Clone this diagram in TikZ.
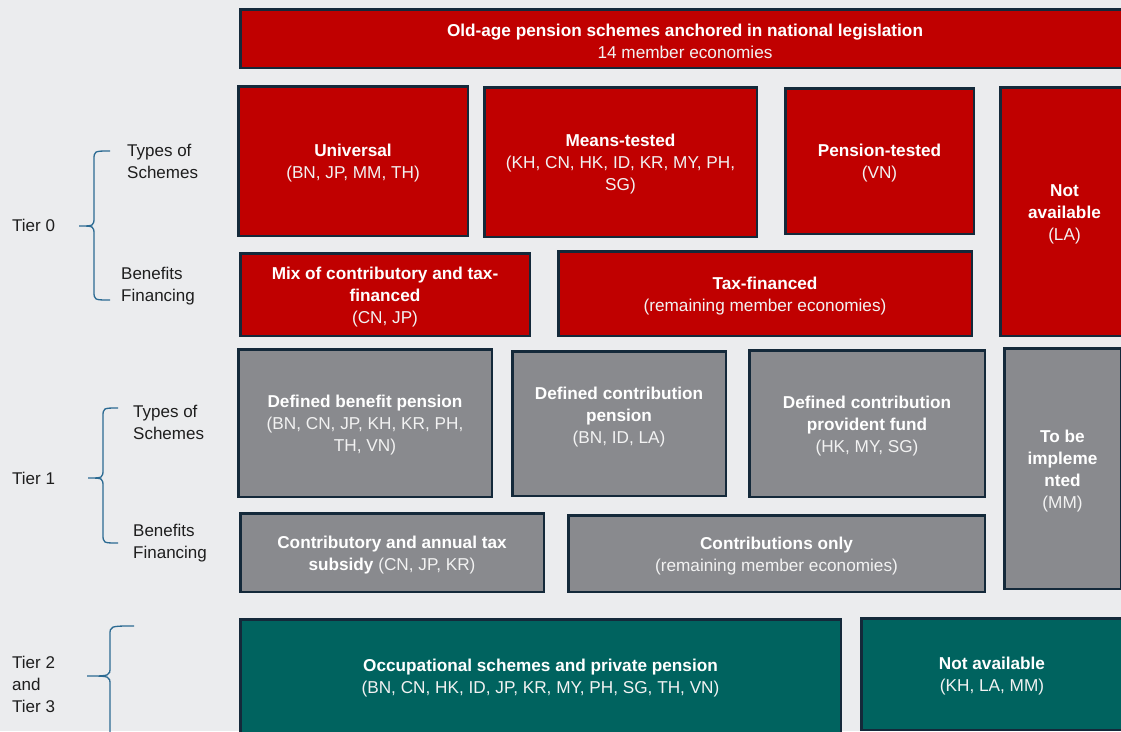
\documentclass[tikz,border=0pt]{standalone}
\usepackage{fontspec}
\setmainfont{Liberation Sans}
\definecolor{bg}{HTML}{EBECEE}
\definecolor{pred}{HTML}{C00000}
\definecolor{pgray}{HTML}{898A8E}
\definecolor{pteal}{HTML}{00635F}
\definecolor{edge}{HTML}{14293A}
\definecolor{sub}{HTML}{F2F2F2}
\definecolor{lbl}{HTML}{1E1E1E}
\definecolor{brc}{HTML}{2B6A92}
\newcommand\hb[1]{\textbf{\color{white}#1}}
\newcommand\pbox[7]{\node[#6, minimum width={#4-#2-2.5}, minimum height={#5-#3-2.5}] (#1) at ({(#2+#4)/2},{(#3+#5)/2}) {};
  \node[boxtext] (#1t) at (#1.center) {#7};}
\begin{document}
\begin{tikzpicture}[x=1pt,y=-1pt,
  box/.style={draw=edge, line width=2.5pt, inner sep=0pt, outer sep=0pt},
  boxtext/.style={inner sep=0pt, align=center, text=sub, yshift=-2.5pt, font=\fontsize{17.2}{22}\selectfont},
  redbox/.style={box, fill=pred},
  graybox/.style={box, fill=pgray},
  tealbox/.style={box, fill=pteal},
  lab/.style={anchor=west, inner sep=0pt, align=left, text=lbl, font=\fontsize{17}{22}\selectfont},
  brace/.style={draw=brc, line width=1.3pt}]
\fill[bg] (0,0) rectangle (1121,731);
\useasboundingbox (0,0) rectangle (1121,731);

% Top
\pbox{top}{239}{8}{1131}{69}{redbox}{\hb{Old-age pension schemes anchored in national legislation}\\14 member economies}

% Tier 0
\pbox{univ}{237}{85}{469}{237}{redbox}{\hb{Universal}\\(BN, JP, MM, TH)}
\pbox{means}{483}{86}{758}{238}{redbox}{\hb{Means-tested}\\(KH, CN, HK, ID, KR, MY, PH,\\SG)}
\pbox{penst}{784}{87}{975}{235}{redbox}{\hb{Pension-tested}\\(VN)}
\pbox{na0}{999}{86}{1130}{337}{redbox}{\hb{Not}\\\hb{available}\\(LA)}
\pbox{mix}{239}{252}{531}{337}{redbox}{\hb{Mix of contributory and tax-}\\\hb{financed}\\(CN, JP)}
\pbox{tax}{557}{250}{973}{337}{redbox}{\hb{Tax-financed}\\(remaining member economies)}

% Tier 1
\pbox{db}{237}{348}{493}{498}{graybox}{\hb{Defined benefit pension}\\(BN, CN, JP, KH, KR, PH,\\TH, VN)}
\pbox{dc}{511}{350}{727}{497}{graybox}{\hb{Defined contribution}\\\hb{pension}\\(BN, ID, LA)\\\mbox{}}
\pbox{dcpf}{748}{349}{986}{498}{graybox}{\hb{Defined contribution}\\\hb{provident fund}\\(HK, MY, SG)}
\pbox{tbi}{1003}{347}{1122}{590}{graybox}{\hb{To be}\\\hb{impleme}\\\hb{nted}\\(MM)}
\pbox{ctax}{239}{512}{545}{593}{graybox}{\hb{Contributory and annual tax}\\\hb{subsidy} (CN, JP, KR)}
\pbox{conly}{567}{514}{986}{593}{graybox}{\hb{Contributions only}\\(remaining member economies)}

% Tier 2 and 3
\pbox{occ}{239}{618}{842}{734}{tealbox}{\hb{Occupational schemes and private pension}\\(BN, CN, HK, ID, JP, KR, MY, PH, SG, TH, VN)}
\pbox{na2}{860}{617}{1124}{731}{tealbox}{\hb{Not available}\\(KH, LA, MM)}

% Left labels
\node[lab] (t0) at (12,225) {Tier 0};
\node[lab] (t0s) at (127,161) {Types of\\Schemes};
\node[lab] (t0f) at (121,286) {Benefits\\Financing};
\node[lab] (t1) at (12,478) {Tier 1};
\node[lab] (t1s) at (133,422) {Types of\\Schemes};
\node[lab] (t1f) at (133,543) {Benefits\\Financing};
\node[lab] (t2) at (12,684) {Tier 2\\and\\Tier 3};

% Braces
\draw[brace] (110,151) .. controls (94,151) .. (94,160) -- (94,217) .. controls (94,226) .. (79,226) .. controls (94,226) .. (94,235) -- (94,291) .. controls (94,300) .. (110,300);
\draw[brace] (118,408) .. controls (103,408) .. (103,417) -- (103,469) .. controls (103,478) .. (88,478) .. controls (103,478) .. (103,487) -- (103,534) .. controls (103,543) .. (118,543);
\draw[brace] (134,626) .. controls (110,626) .. (110,635) -- (110,667) .. controls (110,676) .. (87,676) .. controls (110,676) .. (110,685) -- (110,745);
\end{tikzpicture}
\end{document}
